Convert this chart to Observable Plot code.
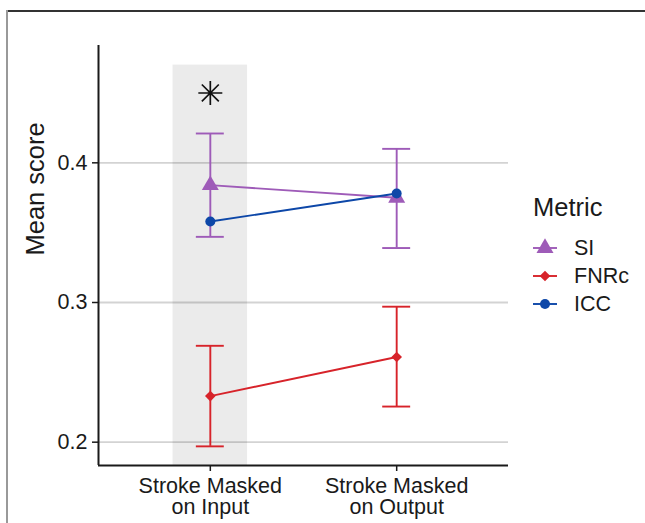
<!DOCTYPE html>
<html>
<head>
<meta charset="utf-8">
<script src="https://cdn.jsdelivr.net/npm/d3@7"></script>
<script src="https://cdn.jsdelivr.net/npm/@observablehq/plot@0.6"></script>
<style>
  html, body { margin: 0; padding: 0; background: #fff; }
  #wrap { position: relative; width: 645px; height: 523px; overflow: hidden; font-family: "Liberation Sans", Arial, sans-serif; color: #1a1a1a; }
  #frameTop { position: absolute; left: 7px; top: 10px; width: 640px; height: 2px; background: #333; }
  #frameLeft { position: absolute; left: 6px; top: 10px; width: 2px; height: 520px; background: #999; }
  #chart { position: absolute; left: 0; top: 0; }
  #legend { position: absolute; left: 533px; top: 190px; }
  #legend .title { font-size: 25.5px; line-height: 34px; margin-bottom: 10px; }
  #legend .item { display: flex; align-items: center; height: 28px; font-size: 21.5px; }
  #legend .item svg { margin-right: 17px; }
</style>
</head>
<body>
<div id="wrap">
  <div id="frameTop"></div>
  <div id="frameLeft"></div>
  <div id="chart"></div>
  <div id="legend"></div>
</div>
<script>
// ---- data ----
const categories = ["Stroke Masked\non Input", "Stroke Masked\non Output"];
const metrics = ["SI", "FNRc", "ICC"];
const metricColors = ["#9E5BB8", "#D7232A", "#0D47A8"];
const metricSymbols = ["triangle", "diamond2", "circle"];
const siMean = [0.384, 0.375];
const siLow = [0.347, 0.339];
const siHigh = [0.421, 0.410];
const fnrcMean = [0.233, 0.261];
const fnrcLow = [0.197, 0.2255];
const fnrcHigh = [0.269, 0.297];
const iccMean = [0.358, 0.378];
const yTicks = [0.2, 0.3, 0.4];
const highlightCategory = 0;   // shaded column
const highlightTop = 0.47;
const starCategory = 0;        // significance marker
const starY = 0.45;

// ---- build table ----
const means = { SI: siMean, FNRc: fnrcMean, ICC: iccMean };
const lows = { SI: siLow, FNRc: fnrcLow };
const highs = { SI: siHigh, FNRc: fnrcHigh };
const rows = [];
metrics.forEach(m => categories.forEach((c, i) => {
  rows.push({ metric: m, x: i + 1, y: means[m][i], lo: lows[m] ? lows[m][i] : null, hi: highs[m] ? highs[m][i] : null });
}));
const errRows = rows.filter(d => d.lo != null);

const yMin = 0.1833, yMax = 0.484;
const capHalf = 0.075;

const asterisk = {
  draw(ctx, size) {
    const r = Math.sqrt(size / Math.PI);
    const d = r / Math.SQRT2;
    ctx.moveTo(-r, 0); ctx.lineTo(r, 0);
    ctx.moveTo(0, -r); ctx.lineTo(0, r);
    ctx.moveTo(-d, -d); ctx.lineTo(d, d);
    ctx.moveTo(-d, d); ctx.lineTo(d, -d);
  }
};

const colorScale = { domain: metrics, range: metricColors };
const symbolScale = { domain: metrics, range: metricSymbols };
const lw = 1.9;

const plot = Plot.plot({
  width: 520,
  height: 523,
  marginLeft: 98,
  marginRight: 12,
  marginTop: 45,
  marginBottom: 58,
  style: { fontFamily: "'Liberation Sans', Arial, sans-serif", color: "#1a1a1a", background: "transparent" },
  x: { type: "linear", domain: [0.4, 2.6], axis: null },
  y: { domain: [yMin, yMax], axis: null },
  color: colorScale,
  symbol: symbolScale,
  marks: [
    Plot.gridY(yTicks, { stroke: "#d3d3d3", strokeOpacity: 1, strokeWidth: 1.8 }),
    Plot.rect([highlightCategory + 1], { x1: d => d - 0.2, x2: d => d + 0.2, y1: yMin, y2: highlightTop, fill: "#000", fillOpacity: 0.08 }),
    Plot.axisY(yTicks, { tickSize: 6, tickPadding: 5, fontSize: 21.5, tickFormat: d3.format(".1f"), stroke: "#1a1a1a", strokeWidth: 1.5, fill: "#1a1a1a", label: null }),
    Plot.axisX([1, 2], { tickSize: 6, tickPadding: 6, fontSize: 21.5, lineHeight: 1.0, tickFormat: d => categories[d - 1], stroke: "#1a1a1a", strokeWidth: 1.5, fill: "#1a1a1a", label: null }),
    Plot.ruleX([0.4], { stroke: "#1a1a1a", strokeWidth: 2 }),
    Plot.ruleY([yMin], { stroke: "#1a1a1a", strokeWidth: 2 }),
    Plot.text(["Mean score"], { frameAnchor: "left", rotate: -90, dx: -63, fontSize: 25.5, fill: "#1a1a1a" }),
    Plot.ruleX(errRows, { x: "x", y1: "lo", y2: "hi", stroke: "metric", strokeWidth: lw }),
    Plot.ruleY(errRows, { y: "lo", x1: d => d.x - capHalf, x2: d => d.x + capHalf, stroke: "metric", strokeWidth: lw }),
    Plot.ruleY(errRows, { y: "hi", x1: d => d.x - capHalf, x2: d => d.x + capHalf, stroke: "metric", strokeWidth: lw }),
    Plot.line(rows, { x: "x", y: "y", z: "metric", stroke: "metric", strokeWidth: lw }),
    Plot.dot(rows.filter(d => d.metric === "SI"), { x: "x", y: "y", fill: "metric", symbol: "metric", r: 6.3 }),
    Plot.dot(rows.filter(d => d.metric === "FNRc"), { x: "x", y: "y", fill: "metric", symbol: "metric", r: 4.8 }),
    Plot.dot(rows.filter(d => d.metric === "ICC"), { x: "x", y: "y", fill: "metric", symbol: "metric", r: 5 }),
    Plot.dot([{ x: starCategory + 1, y: starY }], { x: "x", y: "y", symbol: asterisk, r: 12, stroke: "#111", strokeWidth: 1.7, fill: "none" })
  ]
});
document.getElementById("chart").appendChild(plot);

// ---- legend ----
const legend = document.getElementById("legend");
const t = document.createElement("div");
t.className = "title";
t.textContent = "Metric";
legend.appendChild(t);
const legendR = { triangle: 6.3, diamond2: 4.8, circle: 5 };
const symMap = { triangle: d3.symbolTriangle, diamond2: d3.symbolDiamond2, circle: d3.symbolCircle };
metrics.forEach((m, i) => {
  const item = document.createElement("div");
  item.className = "item";
  const s = metricSymbols[i];
  const path = d3.symbol(symMap[s], Math.PI * legendR[s] * legendR[s])();
  item.innerHTML = `<svg width="24" height="20" viewBox="-12 -10 24 20"><line x1="-12" x2="12" y1="0" y2="0" stroke="${metricColors[i]}" stroke-width="${lw}"/><path d="${path}" fill="${metricColors[i]}"/></svg><span>${m}</span>`;
  legend.appendChild(item);
});
</script>
</body>
</html>
